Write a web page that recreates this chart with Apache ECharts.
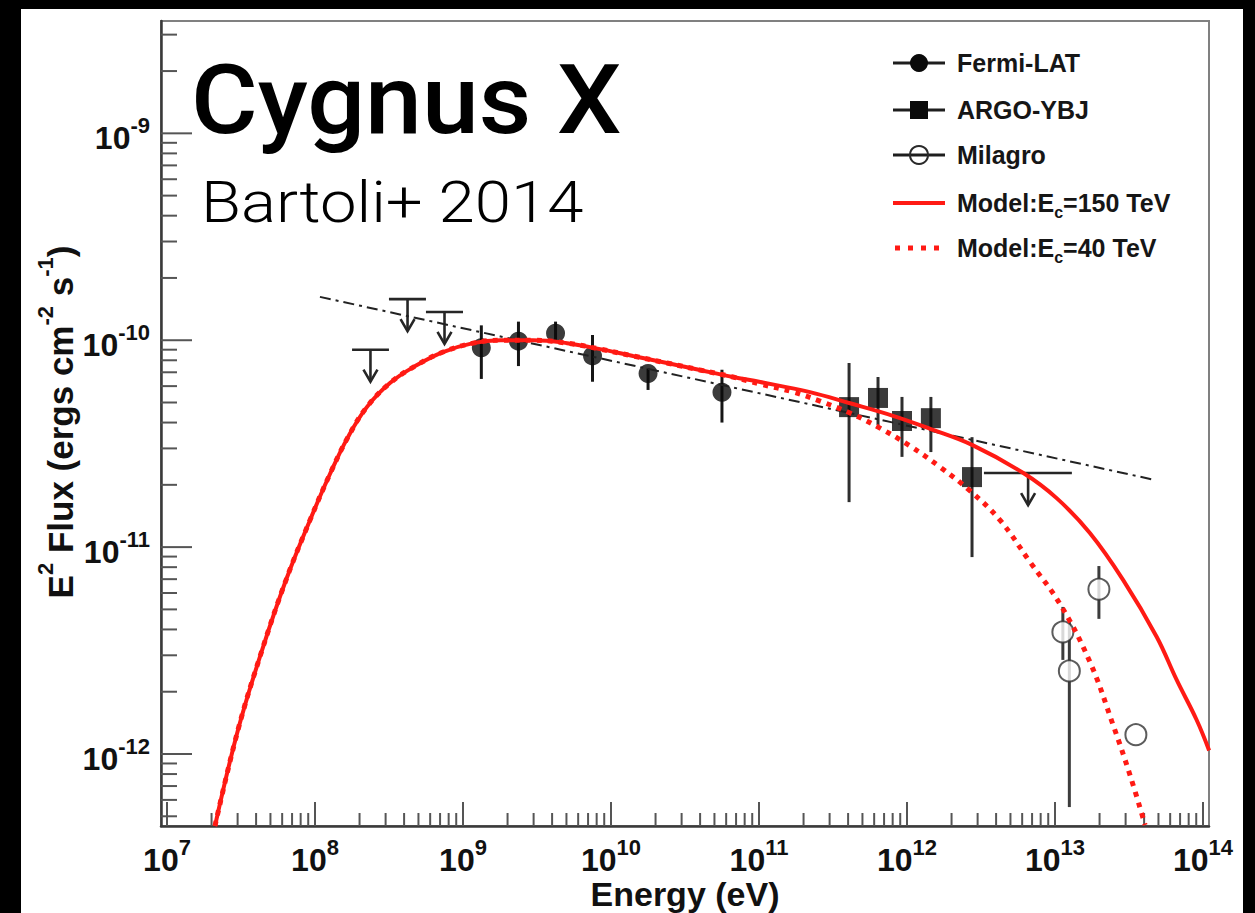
<!DOCTYPE html>
<html>
<head>
<meta charset="utf-8">
<style>
html, body { margin: 0; padding: 0; background: #000; }
#chart { width: 1255px; height: 913px; }
</style>
<script src="https://cdn.jsdelivr.net/npm/echarts@6/dist/echarts.min.js"></script>
</head>
<body>
<div id="chart"></div>
<script>
// ---- axis extents (energy in eV, E^2 flux in erg cm^-2 s^-1) ----
const X_MIN = Math.pow(10, 6.9595);
const X_MAX = Math.pow(10, 14.0405);
const Y_MIN = Math.pow(10, -12.348);
const Y_MAX = Math.pow(10, -8.457);

// decade exponents that carry a "10^n" label
const xTickExponents = [7, 8, 9, 10, 11, 12, 13, 14];
const yTickExponents = [-12, -11, -10, -9];

const seriesNames = ['Fermi-LAT', 'ARGO-YBJ', 'Milagro', 'Model:E_c=150 TeV', 'Model:E_c=40 TeV'];

// Fermi-LAT spectral points
const fermiE  = [1.33e9, 2.37e9, 4.22e9, 7.50e9, 1.78e10, 5.62e10];
const fermiF  = [9.2e-11, 9.9e-11, 1.08e-10, 8.4e-11, 6.9e-11, 5.6e-11];
const fermiLo = [6.5e-11, 7.5e-11, 9.7e-11, 6.3e-11, 5.75e-11, 4.0e-11];
const fermiHi = [1.18e-10, 1.23e-10, 1.23e-10, 1.06e-10, 7.3e-11, 7.2e-11];

// Fermi-LAT upper limits (energy bin edges, centre, limit)
const fermiUlLo = [1.78e8, 3.16e8, 5.62e8];
const fermiUlHi = [3.16e8, 5.62e8, 1.0e9];
const fermiUlE  = [2.37e8, 4.22e8, 7.50e8];
const fermiUlF  = [9.0e-11, 1.58e-10, 1.37e-10];

// ARGO-YBJ spectral points
const argoE  = [4.06e11, 6.37e11, 9.25e11, 1.45e12, 2.75e12];
const argoF  = [4.75e-11, 5.26e-11, 4.07e-11, 4.2e-11, 2.18e-11];
const argoLo = [1.65e-11, 3.89e-11, 2.73e-11, 2.88e-11, 8.95e-12];
const argoHi = [7.76e-11, 6.64e-11, 5.32e-11, 5.32e-11, 3.4e-11];

// ARGO-YBJ upper limit
const argoUlLo = [3.31e12];
const argoUlHi = [1.30e13];
const argoUlE  = [6.58e12];
const argoUlF  = [2.28e-11];

// Milagro points (last one has no error bar)
const milE  = [1.13e13, 1.25e13, 1.98e13, 3.52e13];
const milF  = [3.89e-12, 2.52e-12, 6.26e-12, 1.24e-12];
const milLo = [2.85e-12, 5.54e-13, 4.5e-12, null];
const milHi = [5.14e-12, 4.44e-12, 8.1e-12, null];

// power-law reference line
const plE = [1.08e8, 4.74e13];
const plF = [1.62e-10, 2.11e-11];

// model with cutoff at 150 TeV
const model150E = [2.11e7, 3.02e7, 4.39e7, 6.37e7, 9.25e7, 1.26e8, 1.67e8, 2.24e8, 3.21e8, 4.89e8,
                   7.33e8, 1.17e9, 1.78e9, 2.97e9, 5.05e9, 8.43e9, 1.41e10, 2.39e10, 3.99e10, 6.67e10,
                   1.02e11, 2.21e11, 4.06e11, 8.04e11, 1.45e12, 2.75e12, 6.11e12, 1.03e13, 1.72e13,
                   2.89e13, 4.86e13, 6.64e13, 9.06e13, 1.10e14];
const model150F = [4.49e-13, 1.31e-12, 3.18e-12, 6.93e-12, 1.35e-11, 2.25e-11, 3.40e-11, 4.75e-11, 6.21e-11, 7.59e-11,
                   8.77e-11, 9.68e-11, 1.0e-10, 1.0e-10, 9.68e-11, 9.06e-11, 8.39e-11, 7.76e-11, 7.18e-11, 6.64e-11,
                   6.28e-11, 5.61e-11, 4.97e-11, 4.31e-11, 3.72e-11, 3.12e-11, 2.28e-11, 1.72e-11, 1.17e-11,
                   6.93e-12, 3.69e-12, 2.28e-12, 1.46e-12, 1.04e-12];

// model with cutoff at 40 TeV
const model40E = [2.11e7, 3.02e7, 4.39e7, 6.37e7, 9.25e7, 1.26e8, 1.67e8, 2.24e8, 3.21e8, 4.89e8,
                  7.33e8, 1.17e9, 1.78e9, 2.97e9, 5.05e9, 8.43e9, 1.41e10, 2.39e10, 3.99e10, 6.67e10,
                  1.02e11, 1.70e11, 2.58e11, 4.12e11, 6.57e11, 1.05e12, 1.67e12, 2.67e12, 4.25e12,
                  6.78e12, 1.08e13, 1.72e13, 2.47e13, 3.21e13, 4.06e13];
const model40F = [4.49e-13, 1.31e-12, 3.18e-12, 6.93e-12, 1.35e-11, 2.25e-11, 3.40e-11, 4.75e-11, 6.21e-11, 7.59e-11,
                  8.77e-11, 9.68e-11, 1.0e-10, 1.0e-10, 9.68e-11, 9.06e-11, 8.39e-11, 7.76e-11, 7.18e-11, 6.64e-11,
                  6.14e-11, 5.62e-11, 5.08e-11, 4.45e-11, 3.76e-11, 3.08e-11, 2.44e-11, 1.87e-11, 1.35e-11,
                  8.47e-12, 5.31e-12, 2.79e-12, 1.38e-12, 7.92e-13, 4.54e-13];

// ---- helpers ----
const zip = (a, b) => a.map((v, i) => [v, b[i]]);
const RED = '#ff1a14';
const LABEL_FONT = "'Liberation Sans', Arial, Helvetica, sans-serif";

function decadeTicks(lo, hi, fromExp, toExp) {
  const out = [];
  for (let d = fromExp; d <= toExp; d++) {
    for (let m = 1; m <= 9; m++) {
      const v = m * Math.pow(10, d);
      if (v >= lo && v <= hi) out.push({ v: v, major: m === 1 ? 1 : 0 });
    }
  }
  return out;
}

const xTicks = decadeTicks(X_MIN, X_MAX, 6, 14).map(t => [t.v, Y_MIN, t.major]);
const yTicks = decadeTicks(Y_MIN, Y_MAX, -13, -9).map(t => [X_MIN, t.v, t.major]);

// "10" centred on the anchor, exponent raised above it
const powRich = {
  b: { fontFamily: LABEL_FONT, fontWeight: 'bold', fontSize: 32, lineHeight: 48, verticalAlign: 'middle', fill: '#111' },
  s: { fontFamily: LABEL_FONT, fontWeight: 'bold', fontSize: 22, lineHeight: 22, verticalAlign: 'top', fill: '#111' }
};

function errBar(color, width) {
  return function (params, api) {
    const x = api.value(0);
    const p1 = api.coord([x, api.value(1)]);
    const p2 = api.coord([x, api.value(2)]);
    return { type: 'line', shape: { x1: p1[0], y1: p1[1], x2: p2[0], y2: p2[1] },
             style: { stroke: color, lineWidth: width } };
  };
}

function upperLimit(params, api) {
  const f = api.value(2);
  const a = api.coord([api.value(0), f]);
  const b = api.coord([api.value(1), f]);
  const c = api.coord([api.value(3), f]);
  const tip = c[1] + 32;
  const st = { stroke: '#262626', lineWidth: 2.6, fill: null };
  return {
    type: 'group',
    children: [
      { type: 'line', shape: { x1: a[0], y1: a[1], x2: b[0], y2: b[1] }, style: st },
      { type: 'line', shape: { x1: c[0], y1: c[1], x2: c[0], y2: tip }, style: st },
      { type: 'polyline', shape: { points: [[c[0] - 7, tip - 12], [c[0], tip], [c[0] + 7, tip - 12]] }, style: st }
    ]
  };
}

const errData = (E, lo, hi) => E.map((e, i) => [e, lo[i], hi[i]]).filter(d => d[1] != null);
const ulData = (lo, hi, F, E) => E.map((e, i) => [lo[i], hi[i], F[i], e]);

// ---- legend (drawn as graphic elements) ----
const legendX0 = 893, legendX1 = 945, legendMid = 919, legendTextX = 957;
const legendRows = [63, 110, 155, 203, 248];
const legendText = {
  t: { fontFamily: LABEL_FONT, fontWeight: 'bold', fontSize: 25, lineHeight: 34, verticalAlign: 'middle', fill: '#161616' },
  c: { fontFamily: LABEL_FONT, fontWeight: 'bold', fontSize: 16, lineHeight: 12, verticalAlign: 'bottom', fill: '#161616' }
};
function legendLabel(name) {
  const parts = name.split('_c');
  return parts.length === 2 ? '{t|' + parts[0] + '}{c|c}{t|' + parts[1] + '}' : '{t|' + name + '}';
}
const legendGraphics = [];
legendRows.forEach((y, i) => {
  if (i < 3) {
    legendGraphics.push({ type: 'line', shape: { x1: legendX0, y1: y, x2: legendX1, y2: y },
                          style: { stroke: '#1e1e1e', lineWidth: 3 } });
  }
  if (i === 0) legendGraphics.push({ type: 'circle', shape: { cx: legendMid, cy: y, r: 9 }, style: { fill: '#0a0a0a' } });
  if (i === 1) legendGraphics.push({ type: 'rect', shape: { x: legendMid - 9, y: y - 9, width: 18, height: 18 }, style: { fill: '#0a0a0a' } });
  if (i === 2) {
    legendGraphics.push({ type: 'circle', shape: { cx: legendMid, cy: y, r: 9 }, style: { fill: 'none', stroke: '#2a2a2a', lineWidth: 2 } });
  }
  if (i === 3) legendGraphics.push({ type: 'line', shape: { x1: legendX0, y1: y, x2: legendX1, y2: y },
                                     style: { stroke: RED, lineWidth: 4 } });
  if (i === 4) legendGraphics.push({ type: 'line', shape: { x1: legendX0 + 2, y1: y, x2: legendX1, y2: y },
                                     style: { stroke: RED, lineWidth: 5, lineDash: [5, 8] } });
  legendGraphics.push({ type: 'text', x: legendTextX, y: y,
                        style: { text: legendLabel(seriesNames[i]), rich: legendText, align: 'left', verticalAlign: 'middle' } });
});

const chart = echarts.init(document.getElementById('chart'), null, { renderer: 'svg' });

const option = {
  backgroundColor: '#000',
  animation: false,
  grid: { left: 161, right: 46, top: 21, bottom: 87, show: true, borderColor: '#808080', borderWidth: 2, backgroundColor: 'transparent' },
  xAxis: {
    type: 'log', min: X_MIN, max: X_MAX,
    axisLine: { show: true, onZero: false, lineStyle: { color: '#3a3a3a', width: 2.5 } },
    axisTick: { show: false }, axisLabel: { show: false }, splitLine: { show: false }
  },
  yAxis: {
    type: 'log', min: Y_MIN, max: Y_MAX,
    axisLine: { show: true, onZero: false, lineStyle: { color: '#3a3a3a', width: 2.5 } },
    axisTick: { show: false }, axisLabel: { show: false }, splitLine: { show: false }
  },
  graphic: [
    { type: 'rect', z: -10, shape: { x: 21, y: 9, width: 1222, height: 904 }, style: { fill: '#fff' } },
    { type: 'text', x: 191, y: 100, scaleX: 1.065,
      style: { text: 'Cygnus X', fontFamily: 'Roboto, sans-serif', fontWeight: 500, fontSize: 96, fill: '#000', align: 'left', verticalAlign: 'middle' } },
    { type: 'text', x: 201, y: 202, scaleX: 1.145,
      style: { text: 'Bartoli+ 2014', fontFamily: 'Roboto, sans-serif', fontWeight: 300, fontSize: 57, fill: '#000', align: 'left', verticalAlign: 'middle' } },
    { type: 'text', x: 60, y: 422, rotation: Math.PI / 2,
      style: {
        text: '{n|E}{s|2}{n| Flux (ergs cm}{s|-2}{n| s}{s|-1}{n|)}', align: 'center', verticalAlign: 'middle',
        rich: {
          n: { fontFamily: LABEL_FONT, fontWeight: 'bold', fontSize: 35, lineHeight: 52, verticalAlign: 'middle', fill: '#111' },
          s: { fontFamily: LABEL_FONT, fontWeight: 'bold', fontSize: 22, lineHeight: 22, verticalAlign: 'top', fill: '#111' }
        }
      } },
    { type: 'text', x: 685, y: 894,
      style: { text: 'Energy (eV)', fontFamily: LABEL_FONT, fontWeight: 'bold', fontSize: 34, lineHeight: 30, fill: '#111', align: 'center', verticalAlign: 'middle' } }
  ].concat(legendGraphics),
  series: [
    // axis ticks and labels
    { type: 'custom', name: 'x ticks', silent: true, data: xTicks, encode: { x: 0, y: 1 },
      renderItem: (params, api) => {
        const p = api.coord([api.value(0), Y_MIN]);
        const len = api.value(2) ? 24 : 13;
        return { type: 'line', shape: { x1: p[0], y1: p[1], x2: p[0], y2: p[1] - len }, style: { stroke: '#555', lineWidth: 2 } };
      } },
    { type: 'custom', name: 'y ticks', silent: true, data: yTicks, encode: { x: 0, y: 1 },
      renderItem: (params, api) => {
        const p = api.coord([X_MIN, api.value(1)]);
        const len = api.value(2) ? 31 : 16;
        return { type: 'line', shape: { x1: p[0], y1: p[1], x2: p[0] + len, y2: p[1] }, style: { stroke: '#555', lineWidth: 2 } };
      } },
    { type: 'custom', name: 'x labels', silent: true,
      data: xTickExponents.map(e => [Math.pow(10, e), Y_MIN, e]), encode: { x: 0, y: 1 },
      renderItem: (params, api) => {
        const p = api.coord([api.value(0), Y_MIN]);
        return { type: 'text', x: p[0], y: p[1] + 34,
                 style: { text: '{b|10}{s|' + api.value(2) + '}', rich: powRich, align: 'center', verticalAlign: 'middle' } };
      } },
    { type: 'custom', name: 'y labels', silent: true,
      data: yTickExponents.map(e => [X_MIN, Math.pow(10, e), e]), encode: { x: 0, y: 1 },
      renderItem: (params, api) => {
        const p = api.coord([X_MIN, api.value(1)]);
        return { type: 'text', x: p[0] - 11, y: p[1] + 5,
                 style: { text: '{b|10}{s|' + api.value(2) + '}', rich: powRich, align: 'right', verticalAlign: 'middle' } };
      } },

    // error bars and upper limits
    { type: 'custom', name: 'Fermi-LAT errors', silent: true, data: errData(fermiE, fermiLo, fermiHi),
      encode: { x: 0, y: [1, 2] }, renderItem: errBar('#161616', 3) },
    { type: 'custom', name: 'ARGO-YBJ errors', silent: true, data: errData(argoE, argoLo, argoHi),
      encode: { x: 0, y: [1, 2] }, renderItem: errBar('#2e2e2e', 3) },
    { type: 'custom', name: 'Milagro errors', silent: true, data: errData(milE, milLo, milHi),
      encode: { x: 0, y: [1, 2] }, renderItem: errBar('#3c3c3c', 3) },
    { type: 'custom', name: 'Fermi-LAT limits', silent: true, data: ulData(fermiUlLo, fermiUlHi, fermiUlF, fermiUlE),
      encode: { x: [0, 1, 3], y: 2 }, renderItem: upperLimit },
    { type: 'custom', name: 'ARGO-YBJ limit', silent: true, data: ulData(argoUlLo, argoUlHi, argoUlF, argoUlE),
      encode: { x: [0, 1, 3], y: 2 }, renderItem: upperLimit },

    // data points
    { type: 'scatter', name: seriesNames[0], data: zip(fermiE, fermiF), symbol: 'circle', symbolSize: 19,
      itemStyle: { color: '#0a0a0a' } },
    { type: 'scatter', name: seriesNames[1], data: zip(argoE, argoF), symbol: 'rect', symbolSize: 20,
      itemStyle: { color: '#0a0a0a' } },
    { type: 'scatter', name: seriesNames[2], data: zip(milE, milF), symbol: 'circle', symbolSize: 21,
      itemStyle: { color: '#fff', borderColor: '#333', borderWidth: 2 } },

    // power-law reference line
    { type: 'line', name: 'power law', data: zip(plE, plF), showSymbol: false, silent: true,
      lineStyle: { color: '#222', width: 2, type: [11, 5, 3, 5] } },

    // model curves
    { type: 'line', name: seriesNames[3], data: zip(model150E, model150F), showSymbol: false, smooth: 0.4,
      clip: true, lineStyle: { color: RED, width: 4 } },
    { type: 'line', name: seriesNames[4], data: zip(model40E, model40F), showSymbol: false, smooth: 0.4,
      clip: true, lineStyle: { color: RED, width: 5, type: [5, 6] } }
  ]
};

chart.setOption(option);
</script>
</body>
</html>
